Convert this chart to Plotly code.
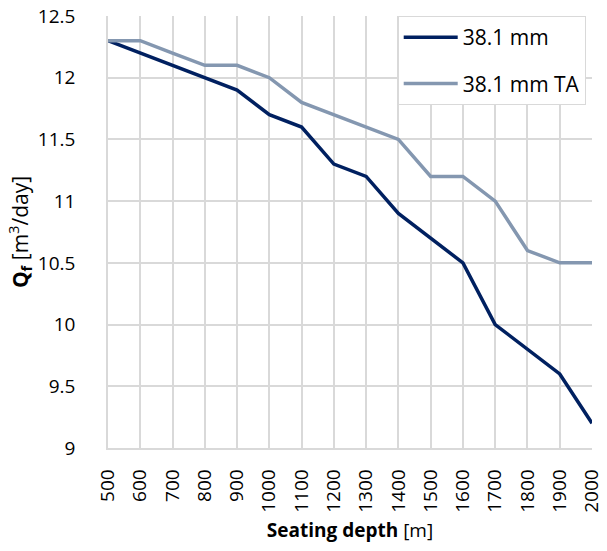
import plotly.graph_objects as go

depth = [500, 600, 700, 800, 900, 1000, 1100, 1200, 1300, 1400, 1500, 1600, 1700, 1800, 1900, 2000]
q_381 = [12.3, 12.2, 12.1, 12.0, 11.9, 11.7, 11.6, 11.3, 11.2, 10.9, 10.7, 10.5, 10.0, 9.8, 9.6, 9.2]
q_381_ta = [12.3, 12.3, 12.2, 12.1, 12.1, 12.0, 11.8, 11.7, 11.6, 11.5, 11.2, 11.2, 11.0, 10.6, 10.5, 10.5]
y_ticks = [9, 9.5, 10, 10.5, 11, 11.5, 12, 12.5]
y_tick_text = ["9", "9.5", "10", "10.5", "11", "11.5", "12", "12.5"]

FONT = "Open Sans"

fig = go.Figure()
fig.add_trace(go.Scatter(x=depth, y=q_381, mode="lines", name="38.1 mm",
                         line=dict(color="#002060", width=3.5), legendgroup="a"))
fig.add_trace(go.Scatter(x=depth, y=q_381_ta, mode="lines", name="38.1 mm TA",
                         line=dict(color="#8497b0", width=3.5), legendgroup="b"))

fig.update_layout(
    width=607, height=551,
    margin=dict(l=108, r=15, t=16, b=103),
    paper_bgcolor="white", plot_bgcolor="white",
    font=dict(family=FONT, size=19, color="black"),
    legend=dict(x=0.987, xanchor="right", y=1, yanchor="top",
                bgcolor="white", bordercolor="#d9d9d9", borderwidth=1,
                font=dict(size=21), traceorder="grouped", tracegroupgap=16,
                itemwidth=54),
    showlegend=True,
)
fig.update_xaxes(
    range=[500, 2000], tickmode="array", tickvals=depth, ticktext=[str(d) for d in depth],
    tickangle=-90, showgrid=True, gridcolor="#d9d9d9", gridwidth=1.5,
    showline=True, linecolor="#d9d9d9", linewidth=1.5, zeroline=False,
    ticks="outside", ticklen=12, tickcolor="rgba(0,0,0,0)",
    tickfont=dict(size=19), automargin=False,
    title=dict(text="<b>Seating depth</b> [m]", font=dict(size=19), standoff=12),
)
fig.update_yaxes(
    range=[9, 12.5], tickmode="array", tickvals=y_ticks, ticktext=y_tick_text,
    showgrid=True, gridcolor="#d9d9d9", gridwidth=1.5,
    showline=True, linecolor="#d9d9d9", linewidth=1.5, zeroline=False,
    ticks="outside", ticklen=27, tickcolor="rgba(0,0,0,0)",
    tickfont=dict(size=19), automargin=False,
    title=dict(text="<b>Q<sub>f</sub></b> [m<sup>3</sup>/day]", font=dict(size=21), standoff=4),
)

fig.write_html("out.html", config={"displayModeBar": False},
               post_script="document.body.style.margin='0';")
